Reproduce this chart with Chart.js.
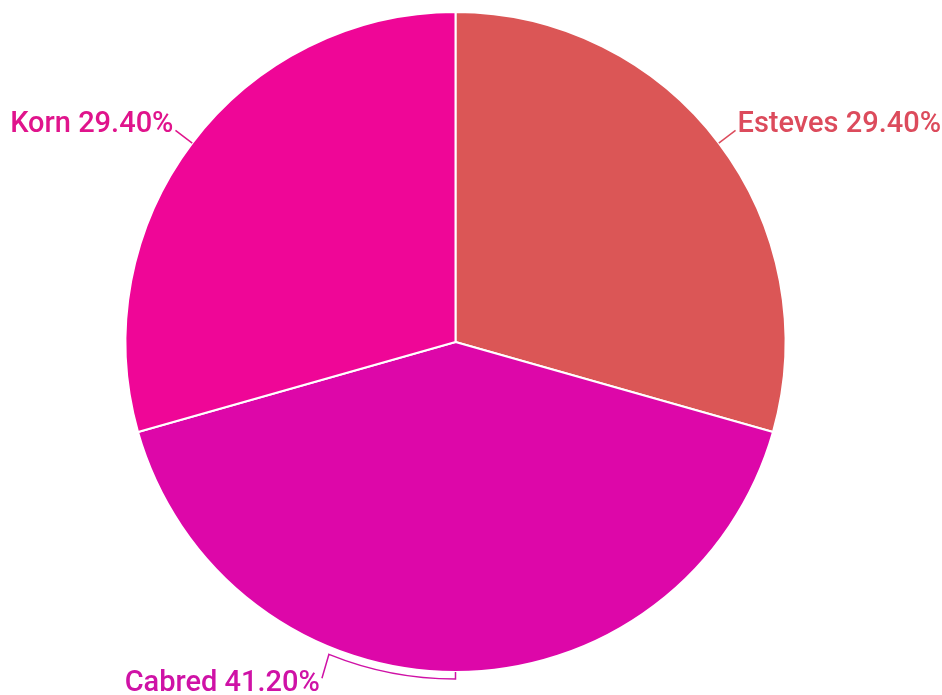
<!DOCTYPE html>
<html>
<head>
<meta charset="utf-8">
<script src="https://cdn.jsdelivr.net/npm/chart.js@4/dist/chart.umd.min.js"></script>
<style>
html,body{margin:0;padding:0;background:#fff;}
#wrap{width:942px;height:695px;position:relative;}
</style>
</head>
<body>
<div id="wrap"><canvas id="c"></canvas></div>
<script>
const categories = ["Esteves", "Cabred", "Korn"];
const shares = [29.4, 41.2, 29.4];
const sliceColors = ["#db5656", "#dd07a9", "#ef0697"];
const labelColors = ["#dc4b5c", "#cf12a6", "#e0148c"];

const labelPlugin = {
  id: 'pieLabels',
  afterDatasetsDraw(chart) {
    const ctx = chart.ctx;
    const meta = chart.getDatasetMeta(0);
    ctx.save();
    ctx.font = '500 29px Roboto';
    ctx.lineWidth = 1.5;
    meta.data.forEach((arc, i) => {
      const {x: cx, y: cy, startAngle, endAngle, outerRadius: r} = arc.getProps(['x','y','startAngle','endAngle','outerRadius'], true);
      const mid = (startAngle + endAngle) / 2;
      const text = categories[i] + ' ' + shares[i].toFixed(2) + '%';
      ctx.strokeStyle = labelColors[i];
      ctx.fillStyle = labelColors[i];
      const px = cx + Math.cos(mid) * r, py = cy + Math.sin(mid) * r;
      const right = Math.cos(mid) >= 0;
      if (Math.abs(Math.cos(mid)) > 0.3) {
        const ox = cx + Math.cos(mid) * (r + 21), oy = cy + Math.sin(mid) * (r + 21);
        ctx.beginPath(); ctx.moveTo(px, py); ctx.lineTo(ox, oy); ctx.stroke();
        ctx.textAlign = right ? 'left' : 'right';
        ctx.textBaseline = 'alphabetic';
        ctx.fillText(text, ox + (right ? 2 : -2), oy + 2);
      } else {
        const rr = r + 7;
        const a2 = mid + 0.385;
        const ex = cx + Math.cos(a2) * rr, ey = cy + Math.sin(a2) * rr;
        ctx.beginPath();
        ctx.moveTo(px, py);
        ctx.lineTo(cx + Math.cos(mid) * rr, cy + Math.sin(mid) * rr);
        ctx.arc(cx, cy, rr, mid, a2, false);
        ctx.lineTo(ex - 7, ey + 24);
        ctx.stroke();
        ctx.textAlign = 'right';
        ctx.textBaseline = 'alphabetic';
        ctx.fillText(text, ex - 9, ey + 37);
      }
    });
    ctx.restore();
  }
};

new Chart(document.getElementById('c'), {
  type: 'pie',
  data: {
    labels: categories,
    datasets: [{
      data: shares,
      backgroundColor: sliceColors,
      borderColor: '#ffffff',
      borderWidth: 2
    }]
  },
  options: {
    responsive: true,
    maintainAspectRatio: false,
    animation: false,
    layout: { padding: { left: 124, right: 155, top: 11, bottom: 22 } },
    plugins: { legend: { display: false }, tooltip: { enabled: false } }
  },
  plugins: [labelPlugin]
});
</script>
</body>
</html>
